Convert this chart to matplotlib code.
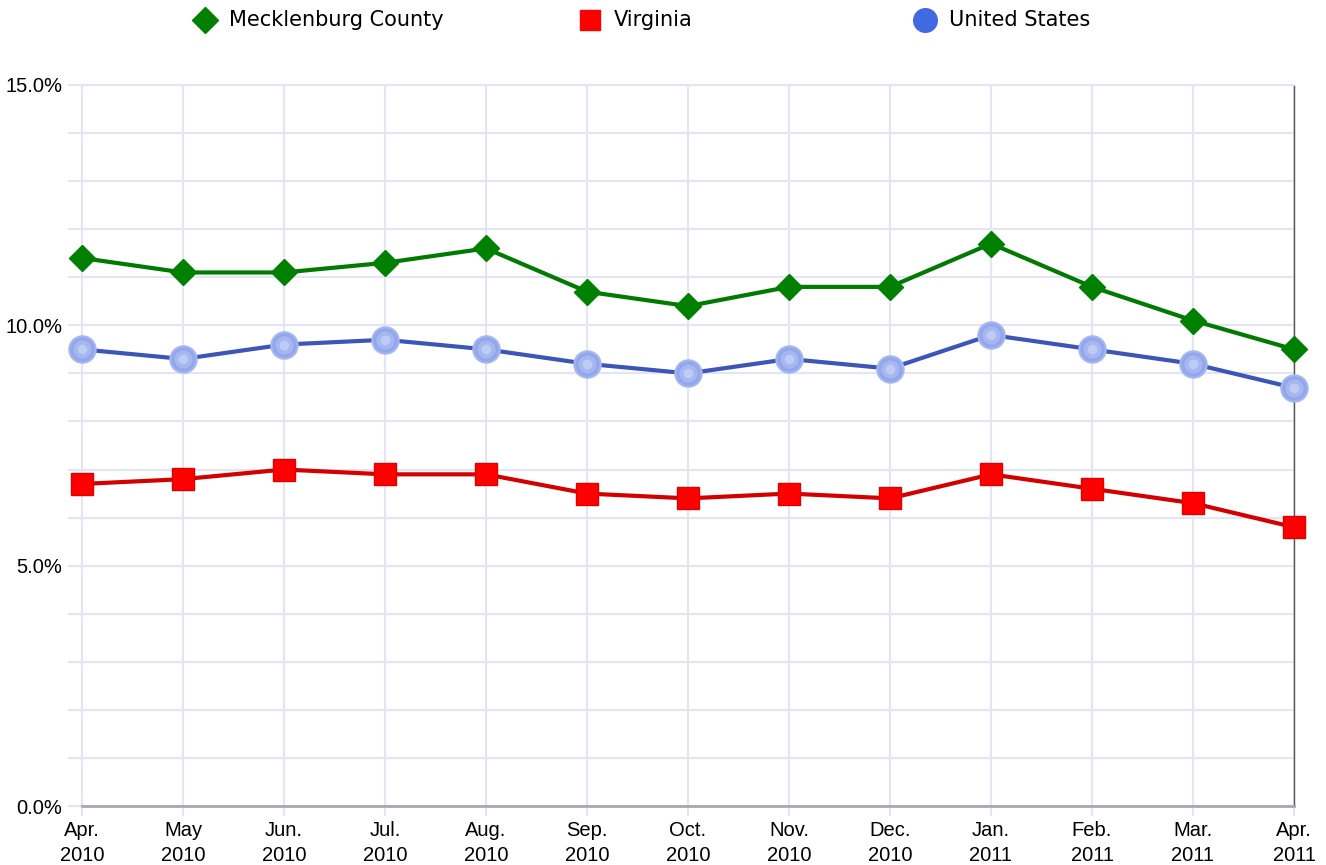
import matplotlib.pyplot as plt
from matplotlib.lines import Line2D
from matplotlib.ticker import MultipleLocator, FuncFormatter

months = ["Apr.\n2010", "May\n2010", "Jun.\n2010", "Jul.\n2010", "Aug.\n2010",
          "Sep.\n2010", "Oct.\n2010", "Nov.\n2010", "Dec.\n2010", "Jan.\n2011",
          "Feb.\n2011", "Mar.\n2011", "Apr.\n2011"]
mecklenburg = [11.4, 11.1, 11.1, 11.3, 11.6, 10.7, 10.4, 10.8, 10.8, 11.7, 10.8, 10.1, 9.5]
virginia = [6.7, 6.8, 7.0, 6.9, 6.9, 6.5, 6.4, 6.5, 6.4, 6.9, 6.6, 6.3, 5.8]
united_states = [9.5, 9.3, 9.6, 9.7, 9.5, 9.2, 9.0, 9.3, 9.1, 9.8, 9.5, 9.2, 8.7]

grid_col = "#e4e4f4"

fig = plt.figure(figsize=(13.26, 8.65), dpi=100)
ax = fig.add_axes([82 / 1326, 1 - 806 / 865, (1294 - 82) / 1326, (806 - 85) / 865])

x = range(len(months))

ax.plot(x, mecklenburg, color="#007a00", lw=3, marker="D", ms=13.5,
        mfc="#008000", mec="#008000", clip_on=False, zorder=4)
ax.plot(x, virginia, color="#d40000", lw=3, marker="s", ms=15.5,
        mfc="#ff0000", mec="#e00000", clip_on=False, zorder=4)
ax.plot(x, united_states, color="#3a56b8", lw=3, marker="o", ms=19,
        mfc="#92a6ec", mec="#a6b6f0", mew=1.5, clip_on=False, zorder=4)
# soft lighter centre so the circles look shaded
ax.plot(x, united_states, ls="none", marker="o", ms=13, mfc="#b4c3f4",
        mec="none", alpha=0.6, clip_on=False, zorder=5)
ax.plot(x, united_states, ls="none", marker="o", ms=7, mfc="#cfd9f9",
        mec="none", alpha=0.6, clip_on=False, zorder=5)

ax.set_xlim(0, 12)
ax.set_ylim(0, 15)
ax.set_xticks(list(x))
ax.set_xticklabels(months, fontsize=14.5, family="Liberation Sans", linespacing=1.35)

ax.yaxis.set_major_locator(MultipleLocator(5))
ax.yaxis.set_minor_locator(MultipleLocator(1))
ax.yaxis.set_major_formatter(FuncFormatter(lambda v, p: f"{v:.1f}%"))
for lbl in ax.get_yticklabels():
    lbl.set_fontsize(14.5)
    lbl.set_family("Liberation Sans")

ax.grid(True, which="both", axis="y", color=grid_col, lw=1.5)
ax.grid(True, which="major", axis="x", color=grid_col, lw=1.5)
ax.set_axisbelow(True)

ax.tick_params(axis="y", which="major", length=10, width=1.5, color=grid_col, pad=4)
ax.tick_params(axis="y", which="minor", length=10, width=1.5, color=grid_col)
ax.tick_params(axis="x", length=7, width=1.5, color=grid_col, pad=4)

ax.spines["left"].set_color(grid_col)
ax.spines["left"].set_linewidth(1.5)
ax.spines["top"].set_color(grid_col)
ax.spines["top"].set_linewidth(1.5)
ax.spines["bottom"].set_color("#a8a8b0")
ax.spines["bottom"].set_linewidth(2)
ax.spines["right"].set_color("#555555")
ax.spines["right"].set_linewidth(1)

# legend across the top
legend_items = [("Mecklenburg County", 205, "D", "#008000", 13),
                ("Virginia", 590, "s", "#ff0000", 15),
                ("United States", 925, "o", "#4169e1", 17)]
ly = 1 - 20 / 865
for name, px, mk, col, ms in legend_items:
    fig.add_artist(Line2D([px / 1326], [ly], transform=fig.transFigure, ls="none",
                          marker=mk, ms=ms, mfc=col, mec=col))
    fig.text((px + 24) / 1326, ly, name, fontsize=15, va="center", ha="left",
             color="#000000", family="DejaVu Sans")

fig.savefig("out.png", dpi=100)
